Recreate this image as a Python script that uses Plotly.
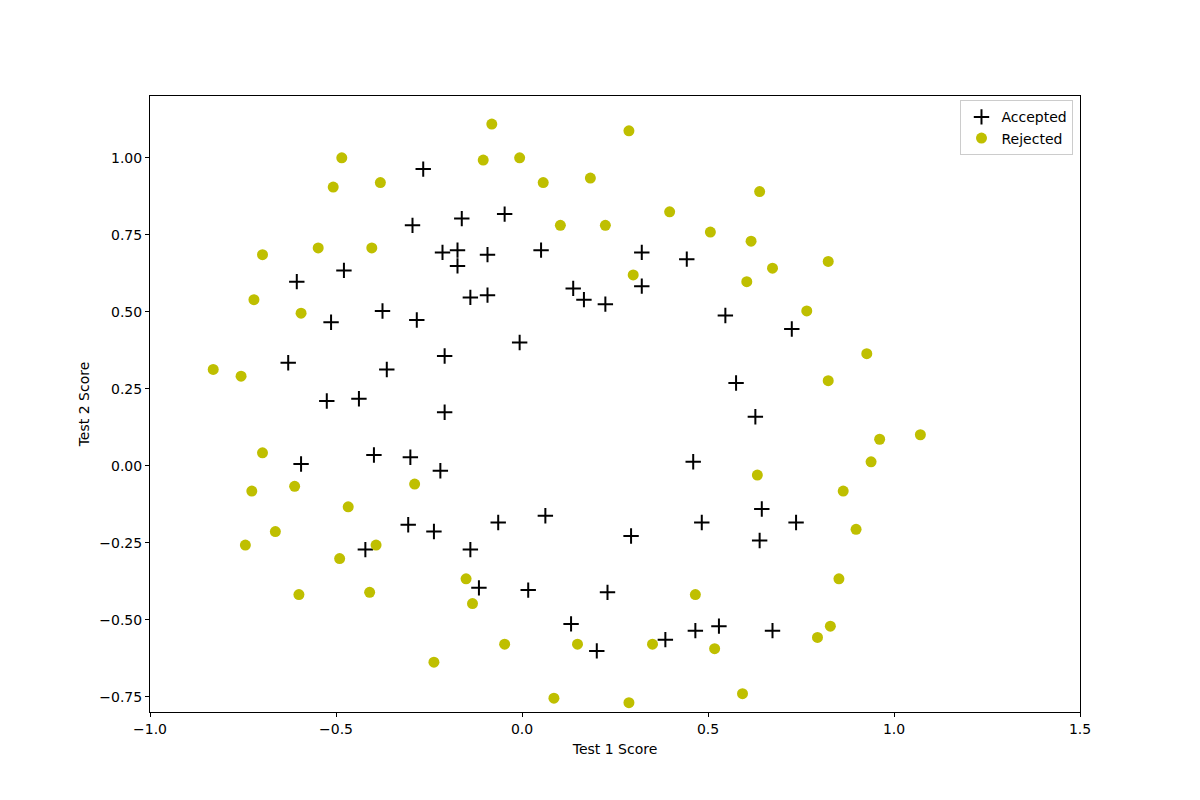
import plotly.graph_objects as go

acc_x = [0.051267,-0.092742,-0.21371,-0.375,-0.51325,-0.52477,-0.39804,-0.30588,0.016705,0.13191,
         0.38537,0.52938,0.63882,0.73675,0.54666,0.322,0.16647,-0.046659,-0.17339,-0.47869,
         -0.60541,-0.62846,-0.59389,-0.42108,-0.11578,0.20104,0.46601,0.67339,-0.13882,-0.29435,
         -0.26555,-0.16187,-0.17339,-0.28283,-0.36348,-0.30012,-0.23675,-0.06394,0.062788,0.22984,
         0.2932,0.48329,0.64459,0.46025,0.6273,0.57546,0.72523,0.22408,0.44297,0.322,
         0.13767,-0.0063364,-0.092742,-0.20795,-0.20795,-0.43836,-0.21947,-0.13882]
acc_y = [0.69956,0.68494,0.69225,0.50219,0.46564,0.2098,0.034357,-0.19225,-0.40424,-0.51389,
         -0.56506,-0.5212,-0.24342,-0.18494,0.48757,0.5826,0.53874,0.81652,0.69956,0.63377,
         0.59722,0.33406,0.005117,-0.27266,-0.39693,-0.60161,-0.53582,-0.53582,0.54605,0.77997,
         0.96272,0.8019,0.64839,0.47295,0.31213,0.027047,-0.21418,-0.18494,-0.16301,-0.41155,
         -0.2288,-0.18494,-0.14108,0.012427,0.15863,0.26827,0.44371,0.52412,0.67032,0.69225,
         0.57529,0.39985,0.55336,0.35599,0.17325,0.21711,-0.016813,-0.27266]
rej_x = [0.18376,0.22408,0.29896,0.50634,0.61578,0.60426,0.76555,0.92684,0.82316,0.96141,
         0.93836,0.86348,0.89804,0.85196,0.82892,0.79435,0.59274,0.51786,0.46601,0.35081,
         0.28744,0.085829,0.14919,-0.13306,-0.40956,-0.39228,-0.74366,-0.69758,-0.75518,-0.69758,
         -0.4038,-0.38076,-0.50749,-0.54781,0.10311,0.057028,-0.10426,-0.081221,0.28744,0.39689,
         0.63882,0.82316,0.67339,1.0709,-0.046659,-0.23675,-0.15035,-0.49021,-0.46717,-0.28859,
         -0.61118,-0.66302,-0.59965,-0.72638,-0.83007,-0.72062,-0.59389,-0.48445,-0.0063364,0.63265]
rej_y = [0.93348,0.77997,0.61915,0.75804,0.7288,0.59722,0.50219,0.3633,0.27558,0.085526,
         0.012427,-0.082602,-0.20687,-0.36769,-0.5212,-0.55775,-0.7405,-0.5943,-0.41886,-0.57968,
         -0.76974,-0.75512,-0.57968,-0.4481,-0.41155,-0.25804,-0.25804,0.041667,0.2902,0.68494,
         0.70687,0.91886,0.90424,0.70687,0.77997,0.91886,0.99196,1.1089,1.087,0.82383,
         0.88962,0.66301,0.64108,0.10015,-0.57968,-0.63816,-0.36769,-0.3019,-0.13377,-0.0599,
         -0.067251,-0.21418,-0.41886,-0.082602,0.31213,0.53874,0.49488,0.99927,0.99927,-0.030612]

x_ticks = [-1.0, -0.5, 0.0, 0.5, 1.0, 1.5]
y_ticks = [-0.75, -0.5, -0.25, 0.0, 0.25, 0.5, 0.75, 1.0]

fig = go.Figure()
fig.add_trace(go.Scatter(x=acc_x, y=acc_y, mode="markers", name="Accepted",
                         marker=dict(symbol="cross-thin", size=11, color="black",
                                     line=dict(width=2, color="black"))))
fig.add_trace(go.Scatter(x=rej_x, y=rej_y, mode="markers", name="Rejected",
                         marker=dict(symbol="circle", size=11, color="#bfbf00",
                                     line=dict(width=0))))

axis_common = dict(showgrid=False, zeroline=False, showline=True, linecolor="black",
                   linewidth=1, mirror=True, ticks="outside", ticklen=4, tickwidth=1,
                   tickcolor="black", tickfont=dict(size=14, color="black"))
fig.update_xaxes(range=[-1.0, 1.5], tickvals=x_ticks, ticktext=[f"{v:.1f}".replace("-", "−") for v in x_ticks],
                 title=dict(text="Test 1 Score", font=dict(size=14, color="black"), standoff=8),
                 **axis_common)
fig.update_yaxes(range=[-0.8, 1.2], tickvals=y_ticks, ticktext=[f"{v:.2f}".replace("-", "−") for v in y_ticks],
                 title=dict(text="Test 2 Score", font=dict(size=14, color="black"), standoff=6),
                 **axis_common)

fig.update_layout(width=1184, height=784, plot_bgcolor="white", paper_bgcolor="white",
                  margin=dict(l=142, r=112, t=88, b=80),
                  font=dict(family="DejaVu Sans", size=14, color="black"),
                  legend=dict(x=0.993, y=0.993, xanchor="right", yanchor="top",
                              bordercolor="#cccccc", borderwidth=1, bgcolor="white",
                              font=dict(size=14), itemsizing="trace", tracegroupgap=0))
fig.write_html("out.html")
